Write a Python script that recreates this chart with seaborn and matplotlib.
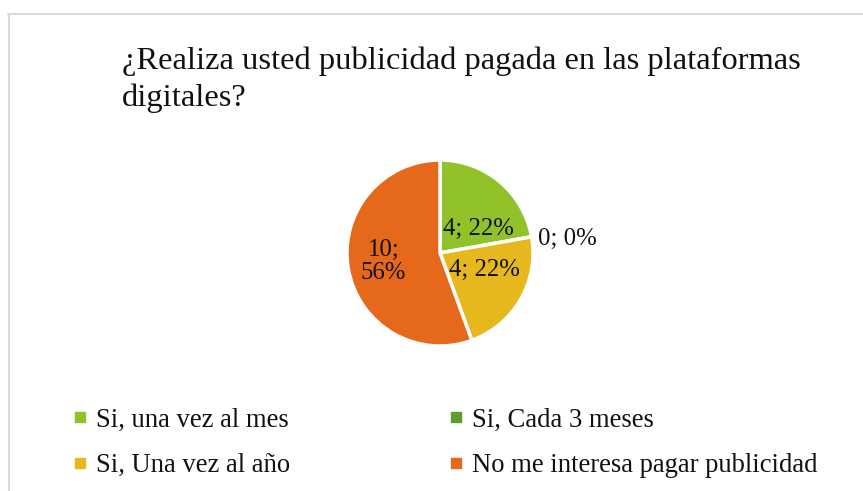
import matplotlib
matplotlib.use("Agg")
import matplotlib.pyplot as plt
import seaborn as sns
from matplotlib.lines import Line2D

# data
categories = ["Si, una vez al mes", "Si, Cada 3 meses", "Si, Una vez al año",
              "No me interesa pagar publicidad"]
counts = [4, 0, 4, 10]
colors = ["#92C22A", "#5B9E2B", "#E6B81E", "#E6681A"]
title = "¿Realiza usted publicidad pagada en las plataformas\ndigitales?"

sns.set_theme(style="white")
plt.rcParams["font.family"] = ["Liberation Serif", "DejaVu Serif"]
palette = sns.color_palette(colors)

W, H = 863, 491
fig = plt.figure(figsize=(W / 100, H / 100), dpi=100)

# chart border (cut off at right and bottom)
fig.add_artist(Line2D([8 / W, 1], [1 - 13.5 / H, 1 - 13.5 / H], color="#D9D9D9", lw=1.5))
fig.add_artist(Line2D([8.5 / W, 8.5 / W], [0, 1 - 13.5 / H], color="#D9D9D9", lw=1.5))

fig.text(122 / W, 1 - 47 / H, title, fontsize=23.4, color="#111111",
         va="top", ha="left", linespacing=1.3)

# pie
cx, cy, r = 440, 253, 93
ax = fig.add_axes([(cx - r) / W, 1 - (cy + r) / H, 2 * r / W, 2 * r / H])
total = sum(counts)


def fmt(pct):
    n = int(round(pct * total / 100))
    return f"{n}; {pct:.0f}%"


wedges, texts, autotexts = ax.pie(
    counts, colors=palette, startangle=90, counterclock=False,
    autopct=fmt, pctdistance=0.55, radius=1,
    wedgeprops=dict(edgecolor="white", linewidth=2.5),
    textprops=dict(fontsize=17.8, color="#111111"),
)
ax.set_xlim(-1, 1)
ax.set_ylim(-1, 1)
ax.set_aspect("auto")
ax.axis("off")

for i, (w, t) in enumerate(zip(wedges, autotexts)):
    if counts[i] == 0:
        t.set_position((1.37, 0.15))
        t.set_ha("center")
    elif counts[i] / total > 0.5:
        t.set_text(t.get_text().replace("; ", ";\n"))
        t.set_linespacing(1.1)
        t.set_position((-0.61, -0.09))
    if i == 0:
        t.set_position((0.41, 0.26))
    if i == 2:
        t.set_position((0.48, -0.18))

order = [0, 2, 1, 3]
handles = [Line2D([], [], marker="s", ls="", markersize=7, color=palette[i]) for i in order]
labels = [categories[i] for i in order]
leg = fig.legend(handles, labels, loc="upper left", bbox_to_anchor=(62 / W, 1 - 397 / H),
                 ncol=2, frameon=False, fontsize=19.2, handlelength=0.55, handletextpad=0.32,
                 columnspacing=5.95, labelspacing=0.77, borderaxespad=0)
for t in leg.get_texts():
    t.set_color("#111111")

fig.savefig("out.png", dpi=100, facecolor="white")
